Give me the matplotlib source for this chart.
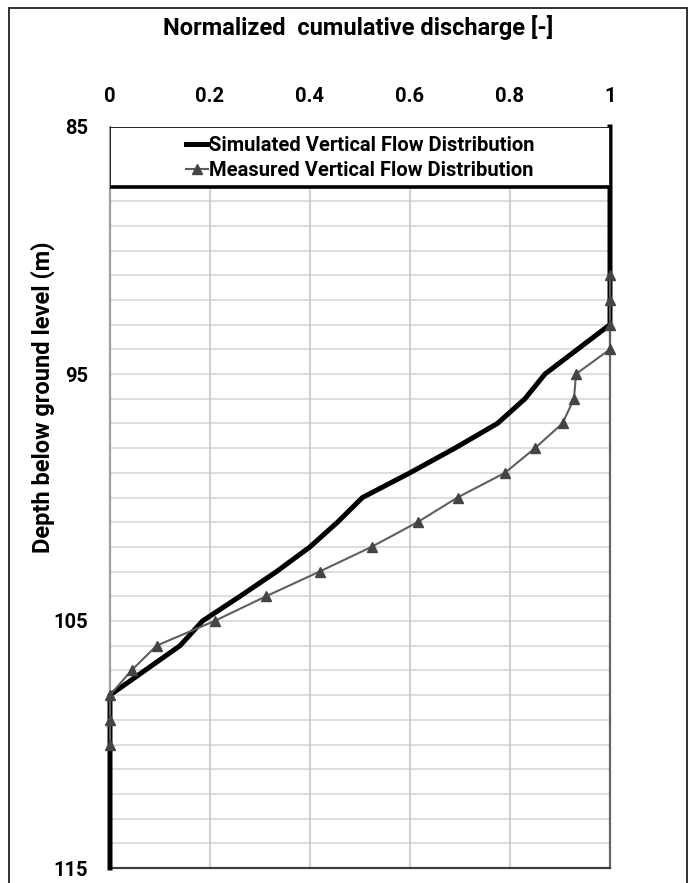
import matplotlib.pyplot as plt
from matplotlib.patches import Rectangle

plt.rcParams['font.family'] = ['Roboto', 'DejaVu Sans']
plt.rcParams['font.weight'] = 'bold'

# simulated vertical flow distribution (normalized cumulative discharge vs depth)
sim_depth = [85, 93, 94, 95, 96, 97, 98, 99, 100, 101, 102, 103, 104, 105, 106, 107, 108, 115]
sim_q = [1.0, 1.0, 0.935, 0.87, 0.83, 0.775, 0.69, 0.60, 0.505, 0.455, 0.40, 0.333,
         0.26, 0.185, 0.14, 0.07, 0.0, 0.0]

# measured vertical flow distribution
meas_depth = [91, 92, 93, 94, 95, 96, 97, 98, 99, 100, 101, 102, 103, 104, 105, 106,
              107, 108, 109, 110]
meas_q = [1.0, 1.0, 1.0, 1.0, 0.932, 0.928, 0.905, 0.85, 0.79, 0.695, 0.615, 0.523,
          0.419, 0.312, 0.209, 0.093, 0.043, 0.0, 0.0, 0.0]

x_ticks = [0, 0.2, 0.4, 0.6, 0.8, 1]
x_labels = ['0', '0.2', '0.4', '0.6', '0.8', '1']
y_ticks = [85, 95, 105, 115]

W, H = 691, 883
fig = plt.figure(figsize=(W / 100, H / 100), dpi=100)
ax = fig.add_axes([110 / W, 1 - 868 / H, 500 / W, 741 / H])

ax.set_xlim(0, 1)
ax.set_ylim(115, 85)

# grid: every metre horizontally, every 0.2 vertically
for d in range(86, 115):
    ax.axhline(d, color='#d4d4d4', lw=1.1, zorder=0)
for xv in x_ticks[1:-1]:
    ax.axvline(xv, color='#c4c4c4', lw=1.1, zorder=0)

ax.plot(sim_q, sim_depth, color='black', lw=3.6, zorder=2.7, clip_on=False,
        solid_joinstyle='round', label='Simulated Vertical Flow Distribution')
ax.plot(meas_q, meas_depth, color='#5e5e5e', lw=1.5, marker='^', ms=6.5,
        markerfacecolor='#444444', markeredgecolor='#444444', zorder=2.8, clip_on=False,
        label='Measured Vertical Flow Distribution')

# legend box across the top of the plot
ax.add_patch(Rectangle((0, 85), 1, 2.42, facecolor='white', edgecolor='black',
                       lw=1.2, zorder=3))
ax.plot([0, 1], [87.42, 87.42], color='black', lw=2.6, zorder=4)
leg = ax.legend(loc='center', bbox_to_anchor=(0.5, 1 - 1.24 / 30), frameon=False,
                handlelength=1.1, handletextpad=0.05, labelspacing=0.3,
                fontsize=14.5, borderpad=0)
leg.set_zorder(5)

ax.xaxis.tick_top()
ax.set_xticks(x_ticks)
ax.set_xticklabels(x_labels)
ax.set_yticks(y_ticks)
ax.tick_params(axis='x', length=0, pad=15, labelsize=14.5)
ax.tick_params(axis='y', length=0, pad=16, labelsize=14.5)

ax.spines['top'].set_visible(False)
ax.spines['left'].set_color('#a0a0a0')
ax.spines['left'].set_linewidth(1.6)
ax.spines['bottom'].set_color('#404040')
ax.spines['bottom'].set_linewidth(1.6)
ax.spines['right'].set_color('#666666')
ax.spines['right'].set_linewidth(1.6)

fig.text(358 / W, 1 - 28 / H, 'Normalized  cumulative discharge [-]', ha='center',
         va='center', fontsize=17, fontweight='bold')
fig.text(43 / W, 1 - 397 / H, 'Depth below ground level (m)', ha='center',
         va='center', rotation=90, fontsize=17, fontweight='bold')

# outer chart border
fig.patches.append(Rectangle((9 / W, -0.02), (687 - 9) / W, 1 - 8 / H + 0.02,
                             transform=fig.transFigure, fill=False,
                             edgecolor='#303030', lw=1.4))

fig.savefig('out.png', dpi=100)
